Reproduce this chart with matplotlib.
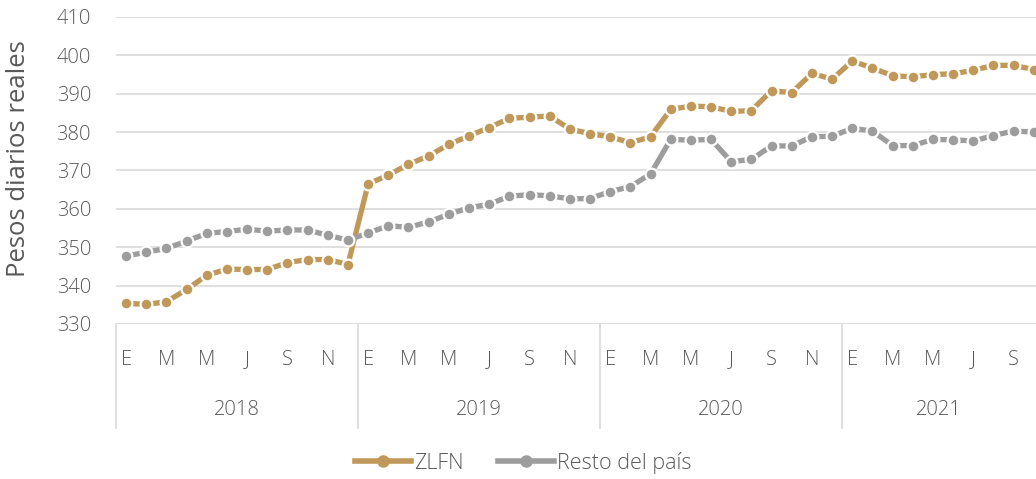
import matplotlib
matplotlib.use("Agg")
import matplotlib.pyplot as plt
from matplotlib.lines import Line2D
import matplotlib.transforms as mtransforms

# data (monthly, Jan 2018 - Oct 2021)
years = ["2018", "2019", "2020", "2021"]
month_labels = ["E", "", "M", "", "M", "", "J", "", "S", "", "N", ""]

zlfn = [335.4, 335.1, 335.8, 339.0, 342.7, 344.3, 344.2, 344.2, 346.0, 346.8, 346.8, 345.5,
        366.5, 368.8, 371.6, 373.8, 376.8, 379.0, 381.2, 383.6, 383.9, 384.2, 380.8, 379.6,
        378.8, 377.2, 378.8, 385.9, 386.8, 386.6, 385.4, 385.6, 390.8, 390.3, 395.3, 393.8,
        398.5, 396.7, 394.7, 394.4, 395.0, 395.2, 396.1, 397.4, 397.4, 396.3]
resto = [347.7, 348.7, 349.7, 351.6, 353.6, 354.1, 354.7, 354.2, 354.5, 354.5, 353.1, 351.9,
         353.7, 355.6, 355.2, 356.6, 358.6, 360.3, 361.2, 363.3, 363.7, 363.4, 362.6, 362.7,
         364.5, 365.8, 369.1, 378.1, 377.9, 378.1, 372.3, 372.9, 376.4, 376.4, 378.8, 378.9,
         381.0, 380.3, 376.5, 376.5, 378.1, 378.0, 377.7, 379.1, 380.3, 380.0]

GOLD = "#C0995A"
GRAY = "#9D9D9D"
TXT = "#595959"
plt.rcParams['font.family'] = ['Open Sans', 'DejaVu Sans']
plt.rcParams['font.weight'] = 'light'

fig = plt.figure(figsize=(10.36, 4.79), dpi=100)
ax = fig.add_axes([116/1036, 1-324/479, 1-116/1036, 307/479])

x = list(range(len(zlfn)))
style = dict(lw=3.8, marker="o", ms=8.5, mec="white", mew=1.6, solid_capstyle="butt")
ax.plot(x, zlfn, color=GOLD, label="ZLFN", **style)
ax.plot(x, resto, color=GRAY, label="Resto del país", **style)

xmax = 45.11
ax.set_xlim(-0.5, xmax)
ax.set_ylim(330, 410)
ax.set_yticks(range(330, 411, 10))
ax.tick_params(axis="y", length=0, labelsize=14.5, labelcolor=TXT, pad=18)
ax.grid(axis="y", color="#D9D9D9", lw=1.2)
ax.set_axisbelow(True)
for s in ax.spines.values():
    s.set_visible(False)
ax.set_xticks([])
ax.set_ylabel("Pesos diarios reales", fontsize=18.5, color=TXT)
ax.yaxis.set_label_coords(-0.092, 0.54)

trans = mtransforms.blended_transform_factory(ax.transData, ax.transAxes)
for k, yr in enumerate(years):
    start = 12 * k - 0.5
    end = min(start + 12, xmax)
    ax.plot([start, start], [0, -0.339], transform=trans, color="#D9D9D9", lw=1.2, clip_on=False)
    for m, lab in enumerate(month_labels):
        if lab and 12 * k + m <= xmax:
            ax.text(12 * k + m, -0.117, lab, transform=trans, ha="center", va="center",
                    fontsize=14.5, color=TXT)
    ax.text((start + end) / 2, -0.28, yr, transform=trans, ha="center", va="center",
            fontsize=14.5, color=TXT)

handles = [Line2D([], [], color=GOLD, lw=4, marker="o", ms=8, mec=GOLD),
           Line2D([], [], color=GRAY, lw=4, marker="o", ms=8, mec=GRAY)]
fig.legend(handles, ["ZLFN", "Resto del país"], loc="center", bbox_to_anchor=(0.505, 1-463/479),
           ncol=2, frameon=False, fontsize=15.5, labelcolor=TXT, handlelength=2.6,
           handletextpad=0.15, columnspacing=1.6)

fig.savefig("out.png", dpi=100)
